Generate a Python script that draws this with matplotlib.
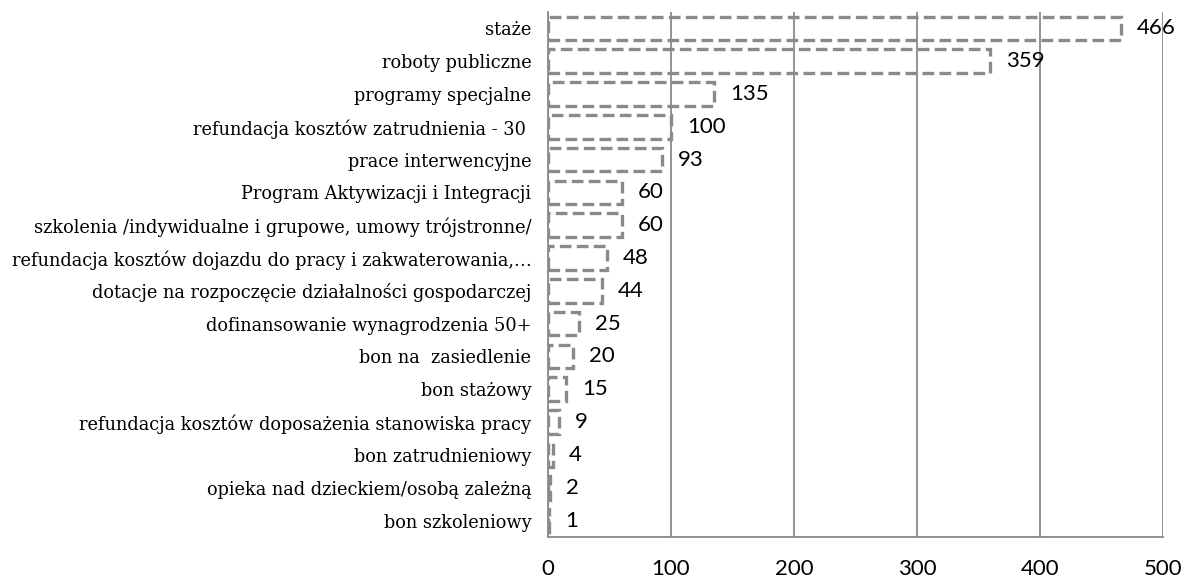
import matplotlib.pyplot as plt

# Data (top to bottom as shown)
categories = [
    "staże",
    "roboty publiczne",
    "programy specjalne",
    "refundacja kosztów zatrudnienia - 30 ",
    "prace interwencyjne",
    "Program Aktywizacji i Integracji",
    "szkolenia /indywidualne i grupowe, umowy trójstronne/",
    "refundacja kosztów dojazdu do pracy i zakwaterowania,…",
    "dotacje na rozpoczęcie działalności gospodarczej",
    "dofinansowanie wynagrodzenia 50+",
    "bon na  zasiedlenie",
    "bon stażowy",
    "refundacja kosztów doposażenia stanowiska pracy",
    "bon zatrudnieniowy",
    "opieka nad dzieckiem/osobą zależną",
    "bon szkoleniowy",
]
values = [466, 359, 135, 100, 93, 60, 60, 48, 44, 25, 20, 15, 9, 4, 2, 1]
xticks = [0, 100, 200, 300, 400, 500]

grey = "#8a8a8a"

fig = plt.figure(figsize=(11.86, 5.83), dpi=100)
ax = fig.add_axes([0.462, 0.079, 0.5186, 0.9005])

n = len(categories)
ypos = list(range(n - 1, -1, -1))

ax.barh(ypos, values, height=0.72, facecolor="none", edgecolor=grey,
        linewidth=2.4, linestyle=(0, (3.5, 1.6)), zorder=3)

for y, v in zip(ypos, values):
    ax.text(v + 13, y, str(v), va="center", ha="left",
            fontsize=16, family="Lato", color="black", zorder=4)

ax.set_xlim(0, 500)
ax.set_ylim(-0.5, n - 0.5)
ax.set_xticks(xticks)
ax.set_xticklabels([str(t) for t in xticks], fontsize=16, family="Lato")
ax.set_yticks(ypos)
ax.set_yticklabels(categories, fontsize=12.8, family="DejaVu Serif")
ax.tick_params(axis="both", length=0)
ax.tick_params(axis="x", pad=16)
ax.tick_params(axis="y", pad=12)

ax.grid(axis="x", color=grey, linewidth=1.3, zorder=0)
for s in ["top", "right"]:
    ax.spines[s].set_visible(False)
for s in ["left", "bottom"]:
    ax.spines[s].set_color(grey)
    ax.spines[s].set_linewidth(1.3)

fig.savefig("out.png", dpi=100)
